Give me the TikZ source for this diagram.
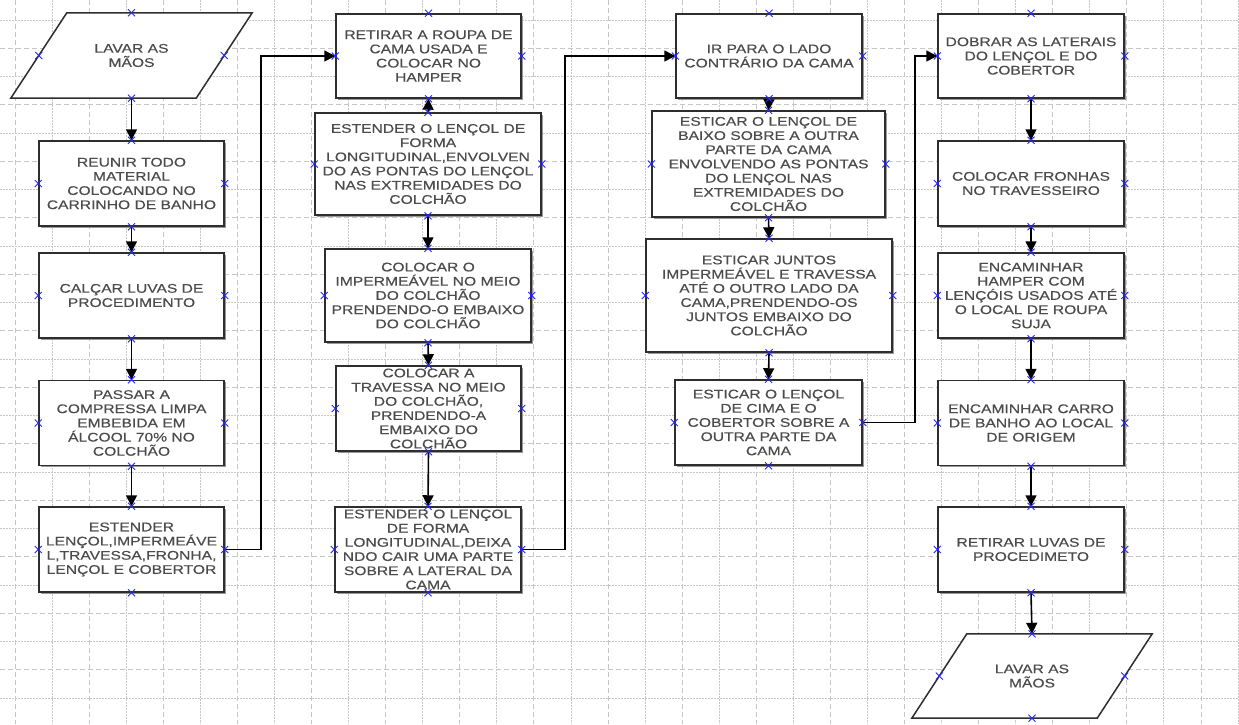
\documentclass[tikz,border=0pt]{standalone}
\usepackage{fontspec}
\newfontfamily\diagfont[FakeStretch=1.25,FakeBold=0.4]{Liberation Sans}
\usetikzlibrary{arrows.meta,shadows}
\begin{document}
\begin{tikzpicture}[x=1pt,y=-1pt,
  txt/.style={rectangle,inner sep=0pt,align=center,text=black!70,
    font=\diagfont\fontsize{12.5}{14.2}\selectfont},
  box/.style={txt,draw=black!82,line width=1.5pt,fill=white,
    drop shadow={shadow xshift=1.6pt,shadow yshift=-1.6pt,fill=black!40,opacity=1}},
  paranode/.style={txt,draw=none,fill=none},
  paraline/.style={draw=black!82,line width=1.5pt,fill=white,line join=miter},
  conn/.style={draw=black,line width=1.6pt,-{Triangle[length=11pt,width=11pt]}},
  gridmajor/.style={draw=black!22,line width=0.8pt,dash pattern=on 5pt off 3pt},
  gridminor/.style={draw=black!22,line width=0.8pt,dash pattern=on 1.5pt off 1.5pt},
  markx/.style={draw=blue!85,line width=0.8pt}]
\useasboundingbox (0,0) rectangle (1239,724);
\fill[white] (0,0) rectangle (1239,724);
% grid
\foreach \k in {0,...,25} {
  \pgfmathsetmacro\yy{20+28.25*\k}
  \ifodd\k\relax \draw[gridmajor] (0,\yy) -- (1239,\yy);
  \else \draw[gridminor] (0,\yy) -- (1239,\yy); \fi
}
\foreach \k in {0,...,33} {
  \pgfmathsetmacro\xx{15+37.06*\k}
  \ifodd\k\relax \draw[gridminor] (\xx,0) -- (\xx,724);
  \else \draw[gridmajor] (\xx,0) -- (\xx,724); \fi
}
% column 1
\node[paranode,minimum width=185pt,minimum height=85pt] (p1) at (131.5,55.5) {};
\draw[paraline] ([xshift=28pt]p1.north west) -- ([xshift=28pt]p1.north east) -- ([xshift=-28pt]p1.south east) -- ([xshift=-28pt]p1.south west) -- cycle;
\node[paranode] at (p1.center) {LAVAR AS\\MÃOS};
\node[box,minimum width=185pt,minimum height=85pt] (b2) at (131.5,183.5) {REUNIR TODO\\MATERIAL\\COLOCANDO NO\\CARRINHO DE BANHO};
\node[box,minimum width=185pt,minimum height=85pt] (b3) at (131.5,295.5) {CALÇAR LUVAS DE\\PROCEDIMENTO};
\node[box,minimum width=185pt,minimum height=85pt] (b4) at (131.5,423) {PASSAR A\\COMPRESSA LIMPA\\EMBEBIDA EM\\ÁLCOOL 70\% NO\\COLCHÃO};
\node[box,minimum width=185pt,minimum height=85pt] (b5) at (131.5,549.5) {ESTENDER\\LENÇOL,IMPERMEÁVE\\L,TRAVESSA,FRONHA,\\LENÇOL E COBERTOR};
% column 2
\node[box,minimum width=185pt,minimum height=84pt] (c1) at (428.5,56) {RETIRAR A ROUPA DE\\CAMA USADA E\\COLOCAR NO\\HAMPER};
\node[box,minimum width=226pt,minimum height=102pt] (c2) at (428,164) {ESTENDER O LENÇOL DE\\FORMA\\LONGITUDINAL,ENVOLVEN\\DO AS PONTAS DO LENÇOL\\NAS EXTREMIDADES DO\\COLCHÃO};
\node[box,minimum width=206pt,minimum height=93pt] (c3) at (428,295.5) {COLOCAR O\\IMPERMEÁVEL NO MEIO\\DO COLCHÃO\\PRENDENDO-O EMBAIXO\\DO COLCHÃO};
\node[box,minimum width=185pt,minimum height=85pt] (c4) at (428.5,408.5) {COLOCAR A\\TRAVESSA NO MEIO\\DO COLCHÃO,\\PRENDENDO-A\\EMBAIXO DO\\COLCHÃO};
\node[box,minimum width=186pt,minimum height=85pt] (c5) at (428,549.5) {ESTENDER O LENÇOL\\DE FORMA\\LONGITUDINAL,DEIXA\\NDO CAIR UMA PARTE\\SOBRE A LATERAL DA\\CAMA};
% column 3
\node[box,minimum width=186pt,minimum height=84pt] (d1) at (769,56) {IR PARA O LADO\\CONTRÁRIO DA CAMA};
\node[box,minimum width=233pt,minimum height=106pt] (d2) at (768.5,164) {ESTICAR O LENÇOL DE\\BAIXO SOBRE A OUTRA\\PARTE DA CAMA\\ENVOLVENDO AS PONTAS\\DO LENÇOL NAS\\EXTREMIDADES DO\\COLCHÃO};
\node[box,minimum width=246pt,minimum height=113pt] (d3) at (769,295.5) {ESTICAR JUNTOS\\IMPERMEÁVEL E TRAVESSA\\ATÉ O OUTRO LADO DA\\CAMA,PRENDENDO-OS\\JUNTOS EMBAIXO DO\\COLCHÃO};
\node[box,minimum width=187pt,minimum height=85pt] (d4) at (768.5,422.5) {ESTICAR O LENÇOL\\DE CIMA E O\\COBERTOR SOBRE A\\OUTRA PARTE DA\\CAMA};
% column 4
\node[box,minimum width=186pt,minimum height=84pt] (e1) at (1031,56) {DOBRAR AS LATERAIS\\DO LENÇOL E DO\\COBERTOR};
\node[box,minimum width=186pt,minimum height=85pt] (e2) at (1031,183.5) {COLOCAR FRONHAS\\NO TRAVESSEIRO};
\node[box,minimum width=186pt,minimum height=85pt] (e3) at (1031,295.5) {ENCAMINHAR\\HAMPER COM\\LENÇÓIS USADOS ATÉ\\O LOCAL DE ROUPA\\SUJA};
\node[box,minimum width=186pt,minimum height=85pt] (e4) at (1031,423) {ENCAMINHAR CARRO\\DE BANHO AO LOCAL\\DE ORIGEM};
\node[box,minimum width=186pt,minimum height=85pt] (e5) at (1031,549.5) {RETIRAR LUVAS DE\\PROCEDIMETO};
\node[paranode,minimum width=185pt,minimum height=84pt] (p2) at (1032,676) {};
\draw[paraline] ([xshift=27.5pt]p2.north west) -- ([xshift=27.5pt]p2.north east) -- ([xshift=-27.5pt]p2.south east) -- ([xshift=-27.5pt]p2.south west) -- cycle;
\node[paranode] at (p2.center) {LAVAR AS\\MÃOS};
% connectors
\draw[conn] (p1.south) -- (b2.north);
\draw[conn] (b2.south) -- (b3.north);
\draw[conn] (b3.south) -- (b4.north);
\draw[conn] (b4.south) -- (b5.north);
\draw[conn] (b5.east) -- ++(36,0) |- (c1.west);
\draw[conn] (c2.north) -- (c1.south);
\draw[conn] (c2.south) -- (c3.north);
\draw[conn] (c3.south) -- (c4.north);
\draw[conn] (c4.south) -- (c5.north);
\draw[conn] (c5.east) -- ++(43,0) |- (d1.west);
\draw[conn] (d1.south) -- (d2.north);
\draw[conn] (d2.south) -- (d3.north);
\draw[conn] (d3.south) -- (d4.north);
\draw[conn] (d4.east) -- ++(52,0) |- (e1.west);
\draw[conn] (e1.south) -- (e2.north);
\draw[conn] (e2.south) -- (e3.north);
\draw[conn] (e3.south) -- (e4.north);
\draw[conn] (e4.south) -- (e5.north);
\draw[conn] (e5.south) -- (p2.north);
% connection-point markers
\foreach \n in {p1,b2,b3,b4,b5,c1,c2,c3,c4,c5,d1,d2,d3,d4,e1,e2,e3,e4,e5,p2} {
  \foreach \a in {north,south,east,west} {
    \draw[markx] ([xshift=-3.5pt,yshift=-3.5pt]\n.\a) -- ([xshift=3.5pt,yshift=3.5pt]\n.\a);
    \draw[markx] ([xshift=-3.5pt,yshift=3.5pt]\n.\a) -- ([xshift=3.5pt,yshift=-3.5pt]\n.\a);
  }
}
\end{tikzpicture}
\end{document}
